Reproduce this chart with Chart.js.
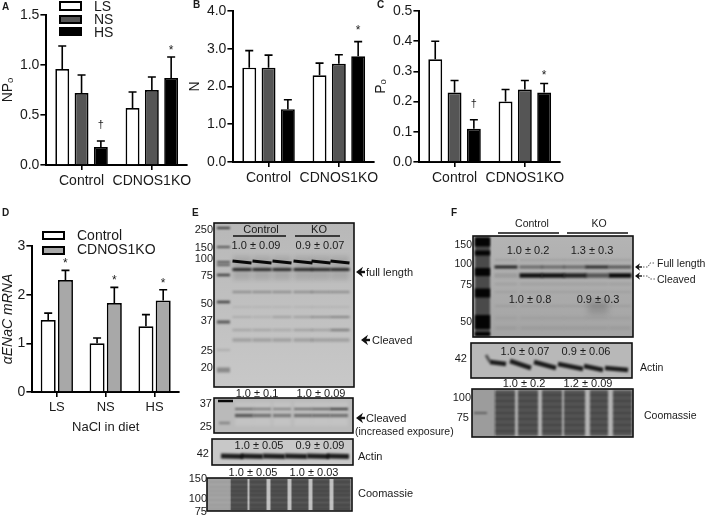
<!DOCTYPE html>
<html><head><meta charset="utf-8">
<script src="https://cdn.jsdelivr.net/npm/chart.js@4"></script>
<style>
html,body{margin:0;padding:0;background:#fff;width:709px;height:516px;overflow:hidden}
#fig{position:relative;width:709px;height:516px;font-family:"Liberation Sans",Arial,sans-serif;color:#1a1a1a;filter:blur(.35px)}
canvas{position:absolute}
.t{position:absolute;white-space:nowrap;line-height:1}
.s{position:absolute;box-sizing:border-box;border:2px solid #000}
</style></head><body><div id="fig"><canvas id="blots" width="709" height="516" style="left:0;top:0"></canvas></div>
<script>
// ---------- data ----------
const groups = ['Control','CDNOS1KO'];
const dietCats = ['LS','NS','HS'];

const npoLS=[0.96,0.57], npoNS=[0.72,0.75], npoHS=[0.18,0.87];
const npoLSErr=[0.23,0.16], npoNSErr=[0.18,0.13], npoHSErr=[0.06,0.21];
const npoHSMarks=['†','*'];
const npoTicks=[0,0.5,1,1.5];

const nLS=[2.5,2.3], nNS=[2.5,2.6], nHS=[1.4,2.8];
const nLSErr=[0.45,0.32], nNSErr=[0.33,0.24], nHSErr=[0.25,0.39];
const nHSMarks=['','*'];
const nTicks=[0,1,2,3,4];

const poLS=[0.34,0.20], poNS=[0.23,0.24], poHS=[0.11,0.23];
const poLSErr=[0.06,0.04], poNSErr=[0.04,0.03], poHSErr=[0.03,0.03];
const poHSMarks=['†','*'];
const poTicks=[0,0.1,0.2,0.3,0.4,0.5];

const mrnaControl=[1.48,1.0,1.35], mrnaKO=[2.3,1.83,1.88];
const mrnaControlErr=[0.14,0.11,0.24], mrnaKOErr=[0.2,0.32,0.22];
const mrnaKOMarks=['*','*','*'];
const mrnaTicks=[0,1,2,3];

// ---------- charts ----------
Chart.defaults.font.family='"Liberation Sans",Arial,sans-serif';
Chart.defaults.color='#1a1a1a';
Chart.defaults.animation=false;

const whiskers={id:'whiskers',afterDatasetsDraw(c){
  const g=c.ctx;const y=c.scales.y;
  c.data.datasets.forEach((d,i)=>{
    const m=c.getDatasetMeta(i);
    m.data.forEach((el,j)=>{
      const top=y.getPixelForValue(d.data[j]+d.err[j]);
      g.save();g.strokeStyle='#000';g.lineWidth=1.6;
      g.beginPath();g.moveTo(el.x,el.y);g.lineTo(el.x,top);
      g.moveTo(el.x-4,top);g.lineTo(el.x+4,top);g.stroke();
      const mk=d.marks&&d.marks[j];
      if(mk){g.fillStyle='#1a1a1a';g.textAlign='center';g.textBaseline='middle';
        if(mk==='†'){g.font='11px "Liberation Sans"';g.fillText(mk,el.x,top-(c.options.daggerGap||15));}
        else{g.font='12px "Liberation Sans"';g.fillText(mk,el.x,top-(c.options.starGap||8)+1.5);}}
      g.restore();
    });
  });
}};

function barChart(o){
  const cv=document.createElement('canvas');
  const x0=o.titleX-8.4, y0=o.top-10, pr=12;
  cv.width=o.right+pr-x0; cv.height=o.bottom+o.xh-y0;
  cv.style.left=x0+'px'; cv.style.top=y0+'px';
  document.getElementById('fig').appendChild(cv);
  new Chart(cv,{type:'bar',plugins:[whiskers],data:{labels:o.labels,datasets:o.sets.map(s=>({
      label:s.label,data:s.data,err:s.err,marks:s.marks,backgroundColor:s.color,borderColor:'#000',borderWidth:o.bw||1.7,
      borderSkipped:'bottom',categoryPercentage:o.cat,barPercentage:o.bar}))},
    options:{responsive:false,maintainAspectRatio:false,starGap:o.starGap,daggerGap:o.daggerGap,
      layout:{padding:{left:0,top:10,right:pr,bottom:0}},
      plugins:{legend:{display:false},title:{display:false},tooltip:{enabled:false}},
      scales:{
        x:{type:'category',offset:true,afterFit:s=>{s.height=o.xh;},
           grid:{offset:false,drawOnChartArea:false,drawTicks:true,tickLength:5,color:'#000',lineWidth:1.6},
           border:{color:'#000',width:2},
           ticks:{font:{size:o.xFont||14},padding:3,maxRotation:0,autoSkip:false,color:'#1a1a1a'},
           title:o.xTitle?{display:true,text:o.xTitle,font:{size:13},padding:0,color:'#1a1a1a'}:{display:false}},
        y:{type:'linear',min:o.min,max:o.max,afterFit:s=>{s.width=o.left-x0;},
           afterBuildTicks:s=>{s.ticks=o.ticks.map(v=>({value:v}));},
           grid:{drawOnChartArea:false,drawTicks:true,tickLength:6,color:'#000',lineWidth:1.6},
           border:{color:'#000',width:2},
           ticks:{font:{size:o.yFont||14},padding:1,color:'#1a1a1a',callback:o.fmt},
           title:{display:true,text:o.yTitle,font:{size:14,style:o.yItalic?'italic':'normal'},padding:0,color:'#1a1a1a'}}
      }}});
}
const f1=v=>v.toFixed(1), f0=v=>String(v);
const triple=(a,ae,b,be,c,ce,m)=>[
  {label:'LS',data:a,err:ae,color:'#fff'},
  {label:'NS',data:b,err:be,color:'#555'},
  {label:'HS',data:c,err:ce,color:'#000',marks:m}];

barChart({labels:groups,sets:triple(npoLS,npoLSErr,npoNS,npoNSErr,npoHS,npoHSErr,npoHSMarks),
  titleX:8,left:46,right:187.5,top:15,bottom:165,xh:28,min:0,max:1.5,ticks:npoTicks,fmt:f1,yTitle:'NPₒ',cat:.824,bar:.72,starGap:8,daggerGap:16});
barChart({labels:groups,sets:triple(nLS,nLSErr,nNS,nNSErr,nHS,nHSErr,nHSMarks),
  titleX:195,left:233,right:374,top:11,bottom:162,xh:28,min:0,max:4,ticks:nTicks,fmt:f1,yTitle:'N',cat:.824,bar:.72,starGap:12});
barChart({labels:groups,sets:triple(poLS,poLSErr,poNS,poNSErr,poHS,poHSErr,poHSMarks),
  titleX:381,left:419,right:560.5,top:11,bottom:162,xh:28,min:0,max:0.5,ticks:poTicks,fmt:f1,yTitle:'Pₒ',cat:.824,bar:.72,starGap:9,daggerGap:16});
barChart({labels:dietCats,sets:[
    {label:'Control',data:mrnaControl,err:mrnaControlErr,color:'#fff'},
    {label:'CDNOS1KO',data:mrnaKO,err:mrnaKOErr,color:'#a8a8a8',marks:mrnaKOMarks}],
  titleX:8,left:32,right:179,top:246,bottom:392,xh:43,min:0,max:3,ticks:mrnaTicks,fmt:f0,yTitle:'αENaC mRNA',yItalic:true,xTitle:'NaCl in diet',
  cat:.706,bar:.87,starGap:8,xFont:13});

// ---------- text and legend swatches ----------
const fig=document.getElementById('fig');
function T(s,x,y,a,size,bold){const e=document.createElement('div');e.className='t';e.textContent=s;
  e.style.left=x+'px';e.style.top=y+'px';e.style.fontSize=(size||11)+'px';if(bold)e.style.fontWeight='bold';
  e.style.transform='translate('+(a==='c'?'-50%':a==='r'?'-100%':'0')+',-50%)';fig.appendChild(e);}
function S(x,y,w,h,c){const e=document.createElement('div');e.className='s';
  e.style.cssText='left:'+x+'px;top:'+y+'px;width:'+w+'px;height:'+h+'px;background:'+c;fig.appendChild(e);}

[['A',2,7],['B',193,5],['C',377,5],['D',2,213],['E',192,213],['F',451,213]].forEach(p=>T(p[0],p[1],p[2],'l',10,true));

S(59,1,23,10,'#fff');S(59,15,23,9,'#555');S(59,27,23,9,'#000');
T('LS',94,6,'l',14);T('NS',94,19,'l',14);T('HS',94,32,'l',14);
S(42,231,23,9,'#fff');S(42,246,23,9,'#a8a8a8');
T('Control',77,235,'l',14);T('CDNOS1KO',77,249,'l',14);

// panel E text
T('Control',261,229,'c');T('KO',319,229,'c');
T('1.0 ± 0.09',256,245,'c');T('0.9 ± 0.07',320,245,'c');
[['250',229],['150',247],['100',258],['75',275],['50',303],['37',320],['25',350],['20',367]].forEach(l=>T(l[0],213,l[1],'r'));
T('full length',366,272,'l');T('Cleaved',372,340,'l');
T('1.0 ± 0.1',257,393,'c');T('1.0 ± 0.09',321,393,'c');
T('37',212,403,'r');T('25',212,426,'r');
T('Cleaved',366,418,'l');T('(increased exposure)',355,431,'l',10.5);
T('1.0 ± 0.05',259,445,'c');T('0.9 ± 0.09',320,445,'c');T('42',209,453,'r');T('Actin',358,456,'l');
T('1.0 ± 0.05',253,472,'c');T('1.0 ± 0.03',314,472,'c');
T('150',207,478,'r');T('100',207,498,'r');T('75',207,511,'r');T('Coomassie',358,493,'l');
// panel F text
T('Control',532,223,'c',10.5);T('KO',599,223,'c',10.5);
T('1.0 ± 0.2',528,250,'c');T('1.3 ± 0.3',592,250,'c');T('1.0 ± 0.8',530,299,'c');T('0.9 ± 0.3',598,299,'c');
[['150',244],['100',263],['75',284],['50',321]].forEach(l=>T(l[0],472,l[1],'r',10.5));
T('Full length',657,263,'l',10.5);T('Cleaved',657,279,'l',10.5);
T('1.0 ± 0.07',525,351,'c');T('0.9 ± 0.06',586,351,'c');T('42',467,358,'r');T('Actin',640,367,'l',10.5);
T('1.0 ± 0.2',524,383,'c');T('1.2 ± 0.09',588,383,'c');T('100',471,397,'r');T('75',469,417,'r');T('Coomassie',644,415,'l',10.5);

// ---------- blot artwork ----------
const g=document.getElementById('blots').getContext('2d');
function box(x,y,w,h,c,bl){g.filter=bl?'blur('+bl+'px)':'none';g.fillStyle=c;g.fillRect(x,y,w,h);g.filter='none';}
function vgrad(x,y,w,h,c1,c2){const l=g.createLinearGradient(0,y,0,y+h);l.addColorStop(0,c1);l.addColorStop(1,c2);g.filter='none';g.fillStyle=l;g.fillRect(x,y,w,h);}
function frame(x,y,w,h){g.filter='none';g.strokeStyle='#111';g.lineWidth=1.6;g.strokeRect(x,y,w,h);}
function band(x1,y1,x2,y2,th,a,bl){g.filter='blur('+(bl==null?1.1:bl)+'px)';g.strokeStyle='rgba(0,0,0,'+a+')';g.lineWidth=th;g.lineCap='butt';
  g.beginPath();g.moveTo(x1,y1);g.lineTo(x2,y2);g.stroke();g.filter='none';}
function row(lanes,w,y,th,alphas,slope,bl){lanes.forEach((x,i)=>{const a=Array.isArray(alphas)?alphas[i]:alphas;band(x-w/2,y,x+w/2,y+(slope||0),th,a,bl);});}
function arrow(x1,x2,y,th,hd){g.filter='none';g.strokeStyle='#111';g.fillStyle='#111';g.lineWidth=th;g.beginPath();g.moveTo(x2,y);g.lineTo(x1+hd*.6,y);g.stroke();
  g.beginPath();g.moveTo(x1,y);g.lineTo(x1+hd,y-hd*.75);g.lineTo(x1+hd*.7,y);g.lineTo(x1+hd,y+hd*.75);g.closePath();g.fill();}
function rule(x1,x2,y,w){g.filter='none';g.strokeStyle='#111';g.lineWidth=w||1.4;g.beginPath();g.moveTo(x1,y);g.lineTo(x2,y);g.stroke();}

// E main
const eL=[242,262,282,303,321,340];
vgrad(214,223,140,164,'#b8b8b8','#c8c8c8');
[[228,2,.7],[247,2,.55],[262,2,.55],[265,2,.5],[275,2.5,.65],[302,2.5,.65],[322,3,.55],[350,2,.12],[370,5,.3]].forEach(b=>band(217,b[0],230,b[0],b[1],b[2],1.1));
eL.forEach(x=>box(x-9,256,18,24,'rgba(0,0,0,.1)',2));
row(eL,19,261,3,.95,2,.7);row(eL,19,269.5,2.6,.85,0,.8);
row(eL,19,292,2.2,.26);row(eL,19,307,1.5,.08);row(eL,19,317,1.4,[.16,.12,.25,.25,.35,.45]);
row(eL,19,330,2.4,[.15,.15,.12,.17,.16,.35]);row(eL,19,340,3.5,.18);
frame(214,223,140,164);
rule(233,286,236);rule(295,340,236);
arrow(356,365,272,2.4,7);arrow(361,370,340,2.4,7);
// E cleaved exposure
const eL2=[244,262,282,303,321,339];
box(214,398,139,35,'#bababa');
eL2.forEach(x=>box(x-9,402,18,24,'rgba(255,255,255,.13)',1.5));
band(218,401,233,401,2.5,.95,.7);band(219,423,230,423,2.5,.28,1.1);
row(eL2,18,409,2.4,[.42,.34,.3,.4,.45,.65]);row(eL2,18,415.5,3.4,[.55,.42,.38,.42,.42,.42]);
frame(214,398,139,35);
arrow(356,365,418,2.4,7);
// E actin
box(212,439,141,26,'#c8c8c8');
[232,252,274,296,318,338].forEach(x=>band(x-11,456,x+11,456.5,5,.85,1));
frame(212,439,141,26);
// E coomassie
box(207,478,145,33,'#c4c4c4');box(207,478,23,33,'#a6a6a6');
const eC=[239,258,279,300,321,342], cS=[482,487,491,495,500,505,509];
eC.forEach((x,i)=>{box(x-8.5,479,17,31,'#5c5c5c',.6);cS.forEach(y=>band(x-8.5,y,x+8.5,y,2.2,.3,1));});
cS.forEach(y=>band(208,y,229,y,1.2,.12,1));
frame(207,478,145,33);
// F main
const fL=[506,531,553,575,597,620];
vgrad(473,236,160,101,'#b4b4b4','#a4a4a4');
box(475,237,15,99,'#4a4a4a',.8);
[[242,9],[253,5],[272,8],[293,9],[322,14],[334,4]].forEach(b=>band(475,b[0],490,b[0],b[1],.95,1.2));
box(588,300,20,14,'rgba(0,0,0,.14)',3);
row(fL,23,267,3,[.8,.4,.4,.4,.75,.5]);row(fL,23,275.5,4.5,[.1,.9,.9,.8,.5,.95]);
row(fL,22,260,1.2,.15,0,1.2);row(fL,22,284,1.5,.1,0,1.3);row(fL,22,292,1.5,.08,0,1.3);row(fL,22,306,1.5,.09,0,1.3);row(fL,22,318,1.8,.08,0,1.4);row(fL,22,328,2.4,.08,0,1.4);
frame(473,236,160,101);
rule(498,559,233,1.6);rule(567,628,233,1.6);
arrow(635,642,267,1.4,5);arrow(635,642,276,1.4,5);
g.strokeStyle='#333';g.lineWidth=.8;g.setLineDash([1.5,1.5]);g.beginPath();g.moveTo(643,267);g.lineTo(648,267);g.lineTo(650,263);g.lineTo(655,263);
g.moveTo(643,276);g.lineTo(648,276);g.lineTo(650,279);g.lineTo(655,279);g.stroke();g.setLineDash([]);
// F actin
box(471,343,161,35,'#b8b8b8');
[[490,362,506,364],[510,361,531,368],[534,362,556,368],[558,364,583,369],[584,366,603,370],[605,368,628,370]].forEach(b=>band(b[0],b[1],b[2],b[3],4.5,.85,.9));
band(486,355,490,362,3,.55,.9);
frame(471,343,161,35);
// F coomassie
box(472,389,161,48,'#b4b4b4');box(472,389,23,48,'#9c9c9c');
band(474,413,487,413,1.5,.5,.8);
const fC=[[495,515],[518,538],[542,562],[564,585],[590,608],[613,632]], fS=[395,401,407,413,419,425,431];
fC.forEach(c=>{box(c[0],390,c[1]-c[0],46,'#565656',.8);fS.forEach(y=>band(c[0],y,c[1],y,2.4,.2,1.1));});
frame(472,389,161,48);
</script></body></html>
